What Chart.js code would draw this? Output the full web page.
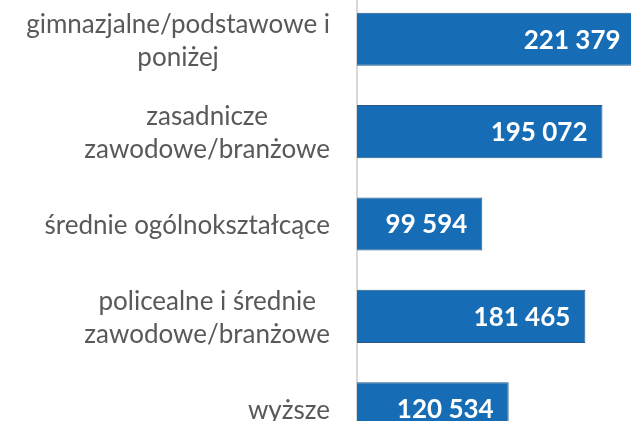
<!DOCTYPE html>
<html>
<head>
<meta charset="utf-8">
<script src="https://cdn.jsdelivr.net/npm/chart.js@4/dist/chart.umd.min.js"></script>
<style>
  html, body { margin: 0; padding: 0; background: #fff; overflow: hidden; }
  #frame { position: relative; width: 631px; height: 421px; overflow: hidden; }
  #box { position: absolute; left: 0; top: -7px; width: 659px; height: 462px; }
</style>
</head>
<body>
<div id="frame">
  <div id="box"><canvas id="eduChart"></canvas></div>
</div>
<script>
var categories = [
    ["gimnazjalne/podstawowe i", "poniżej"],
    ["zasadnicze", "zawodowe/branżowe"],
    ["średnie ogólnokształcące"],
    ["policealne i średnie", "zawodowe/branżowe"],
    ["wyższe"]
];
var values = [221379, 195072, 99594, 181465, 120534];
var valueLabels = ["221 379", "195 072", "99 594", "181 465", "120 534"];

var labelFont = "26px Lato, 'Noto Sans', sans-serif";
var valueFont = "bold 26px Lato, 'Noto Sans', sans-serif";

// category labels: lines centred to each other, block right aligned
var catLabels = {
    id: 'catLabels',
    afterDraw: function(chart) {
        var ctx = chart.ctx;
        var y = chart.scales.y;
        var right = chart.chartArea.left - 27;
        ctx.save();
        ctx.font = labelFont;
        ctx.fillStyle = '#595959';
        ctx.textAlign = 'center';
        ctx.textBaseline = 'middle';
        categories.forEach(function(lines, i) {
            var w = 0;
            lines.forEach(function(l) { w = Math.max(w, ctx.measureText(l).width); });
            var cx = right - w / 2;
            var cy = y.getPixelForValue(i) + 2;
            var lh = 33;
            var top = cy - (lines.length - 1) * lh / 2;
            lines.forEach(function(l, k) { ctx.fillText(l, cx, top + k * lh); });
        });
        ctx.restore();
    }
};

// value labels inside bar ends
var valLabels = {
    id: 'valLabels',
    afterDatasetsDraw: function(chart) {
        var ctx = chart.ctx;
        var meta = chart.getDatasetMeta(0);
        ctx.save();
        ctx.font = valueFont;
        ctx.fillStyle = '#ffffff';
        ctx.textAlign = 'right';
        ctx.textBaseline = 'middle';
        meta.data.forEach(function(bar, i) {
            ctx.fillText(valueLabels[i], bar.x - 15, bar.y + 1);
        });
        ctx.restore();
    }
};

var barChart = new Chart(document.getElementById('eduChart').getContext('2d'), {
    type: 'bar',
    data: {
        labels: categories,
        datasets: [{
            data: values,
            backgroundColor: '#176db5',
            borderColor: '#2a5886',
            borderWidth: 1,
            borderSkipped: 'start',
            categoryPercentage: 1.0,
            barPercentage: 0.575
        }]
    },
    options: {
        indexAxis: 'y',
        responsive: true,
        maintainAspectRatio: false,
        animation: false,
        layout: { padding: 0 },
        plugins: {
            legend: { display: false },
            tooltip: { enabled: false }
        },
        scales: {
            x: {
                display: false,
                min: 0,
                max: 240000
            },
            y: {
                grid: { display: false },
                border: { display: true, color: '#d9d9d9', width: 2 },
                ticks: { display: false },
                afterFit: function(scale) { scale.width = 357; }
            }
        }
    },
    plugins: [catLabels, valLabels]
});
</script>
</body>
</html>
